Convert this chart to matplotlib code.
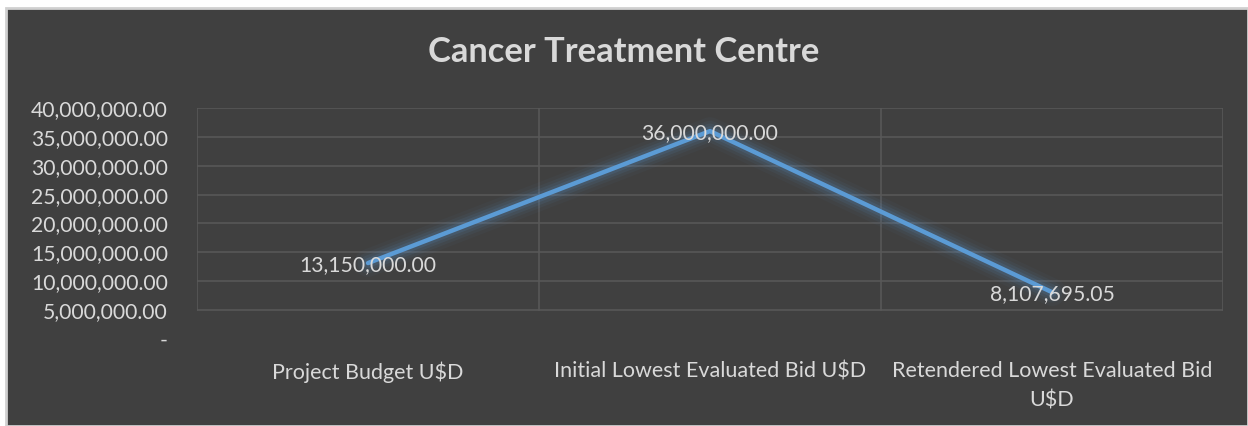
import matplotlib
matplotlib.use("Agg")
import matplotlib.pyplot as plt
from matplotlib.patches import Rectangle
from matplotlib.ticker import FuncFormatter

categories = ["Project Budget U$D", "Initial Lowest Evaluated Bid U$D",
              "Retendered Lowest Evaluated Bid\nU$D"]
values = [13150000.00, 36000000.00, 8107695.05]
yticks = [0, 5000000, 10000000, 15000000, 20000000, 25000000, 30000000, 35000000, 40000000]
title = "Cancer Treatment Centre"

BG = "#404040"
TXT = "#d9d9d9"
GRID = "#585858"
LINE = "#5b9bd5"
FONT = ["Lato", "DejaVu Sans"]

fig = plt.figure(figsize=(12.48, 4.26), dpi=100, facecolor="white")
fig.patches.append(Rectangle((6 / 1248, 0), 1 - 6 / 1248, 1 - 8 / 426,
                             transform=fig.transFigure, facecolor=BG,
                             edgecolor="#d0d0d0", linewidth=2, zorder=-5))

ax = fig.add_axes([197 / 1248, 87 / 426, 1026 / 1248, 231 / 426])
ax.set_zorder(2)
ax.set_facecolor("none")
for s in ax.spines.values():
    s.set_visible(False)

x = list(range(len(categories)))
ax.set_xlim(-0.5, len(categories) - 0.5)
ax.set_ylim(yticks[0], yticks[-1])

# gridlines (from 5M upwards) and category separators
for yv in yticks[1:]:
    ax.plot([-0.5, len(categories) - 0.5], [yv, yv], color=GRID, lw=1.2, zorder=1)
for b in [i - 0.5 for i in range(len(categories) + 1)]:
    ax.plot([b, b], [yticks[1], yticks[-1]], color=GRID, lw=1.2, zorder=1)

# glow
for w, a in [(20, 0.04), (15, 0.06), (11, 0.09), (7, 0.13)]:
    ax.plot(x, values, color=LINE, lw=w, alpha=a, solid_capstyle="round",
            solid_joinstyle="round", zorder=2)
ax.plot(x, values, color=LINE, lw=3.2, solid_capstyle="round",
        solid_joinstyle="round", zorder=3)

for xi, v in zip(x, values):
    ax.annotate(f"{v:,.2f}", (xi, v), xytext=(0, -1.5), textcoords="offset points",
                ha="center", va="center", color=TXT,
                fontsize=15.2, family=FONT, zorder=4)

ax.set_xticks(x)
ax.set_xticklabels(categories, color=TXT, fontsize=15.5, family=FONT,
                   linespacing=1.6, va="top")
ax.set_yticks(yticks)
ax.yaxis.set_major_formatter(FuncFormatter(lambda v, p: "-" if v == 0 else f"{v:,.2f}"))
for lab in ax.get_yticklabels():
    lab.set_color(TXT)
    lab.set_fontsize(15.2)
    lab.set_family(FONT)
ax.tick_params(axis="both", length=0)
ax.tick_params(axis="y", pad=21)
ax.tick_params(axis="x", pad=16)

fig.text(0.5, 1 - 52 / 426, title, ha="center", va="center", color=TXT,
         fontsize=24.8, fontweight="bold", family=FONT)

fig.savefig("out.png", dpi=100, facecolor="white")
